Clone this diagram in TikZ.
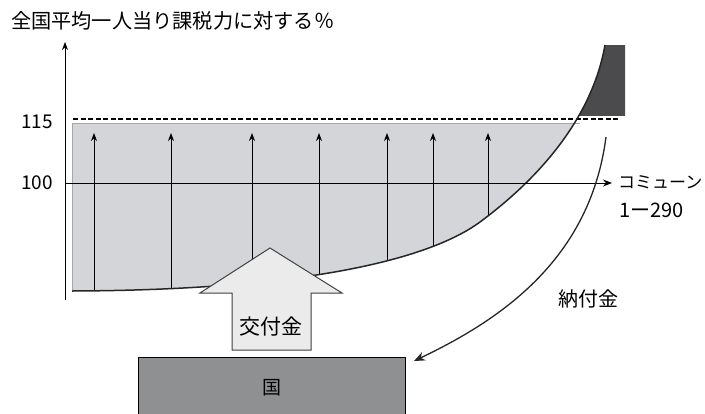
\documentclass[tikz,border=0pt]{standalone}
\usepackage{fontspec}
\setmainfont{Noto Sans CJK JP}
\usetikzlibrary{arrows.meta}
\definecolor{lightfill}{HTML}{D3D5D9}
\definecolor{darkfill}{HTML}{4B4B4D}
\definecolor{boxfill}{HTML}{8F9092}
\definecolor{arrowfill}{HTML}{EBEBEB}
\tikzset{
  axisline/.style={line width=1pt, -{Stealth[length=8pt,width=6pt]}},
  uparrow/.style={line width=1pt, -{Stealth[length=8pt,width=6pt]}},
  lbl/.style={inner sep=0pt, font=\fontsize{19}{19}\selectfont},
  curveline/.style={line width=1.5pt, draw=black!85}
}
\begin{document}
\begin{tikzpicture}[x=1pt,y=-1pt]
\useasboundingbox (0,0) rectangle (705,413);
\def\curvepath{(72,291) .. controls (330,290) and (438,253) .. (480,222) .. controls (522,191) and (590,130) .. (605,45)}
% light region
\begin{scope}
  \clip (72,123) rectangle (640,300);
  \fill[lightfill] \curvepath -- (72,45) -- cycle;
\end{scope}
\draw[gray!70, line width=0.6pt] (72,291) -- (72,123) -- (580,123);
% dark region
\begin{scope}
  \clip (450,45) rectangle (625,115);
  \fill[darkfill] \curvepath -- (625,45) -- (625,300) -- cycle;
\end{scope}
% dashed 115 line
\draw[line width=1.2pt, dash pattern=on 5pt off 2.5pt] (73,119) -- (618,119);
% vertical arrows, starting on the curve
\begin{scope}
  \clip \curvepath -- (72,45) -- cycle;
  \foreach \x in {94,171,252,319,387,433,488}
    \draw[uparrow] (\x,300) -- (\x,133);
\end{scope}
% curve
\draw[curveline] \curvepath;
% axes
\coordinate (yb) at (65,300);
\coordinate (yt) at (65,42);
\coordinate (xb) at (65,183);
\coordinate (xt) at (612,183);
\draw[axisline] (yb) -- (yt);
\draw[line width=1pt, -{Stealth[length=9pt,width=7pt]}] (xb) -- (xt);
% labels
\node[anchor=west, inner sep=0pt, font=\fontsize{20.2}{20}\selectfont] (title) at (11,21) {全国平均一人当り課税力に対する％};
\node[lbl, anchor=east] (l115) at (53,122) {115};
\node[lbl, anchor=east] (l100) at (53,183) {100};
\node[anchor=west, inner sep=0pt, font=\fontsize{17}{17}\selectfont] (kom) at (618,182) {コミューン};
\node[anchor=west, inner sep=0pt, font=\fontsize{20}{20}\selectfont] (rng) at (619,210) {1ー290};
% big arrow
\draw[fill=arrowfill, draw=black!75, line width=1pt]
  (232,350) -- (232,293) -- (200,293) -- (270,248) -- (342,293) -- (311,293) -- (311,350) -- cycle;
\node[inner sep=0pt, font=\fontsize{21}{21}\selectfont] (kofu) at (271,327) {交付金};
% state box
\node[draw=black, line width=1pt, fill=boxfill, minimum width=267pt, minimum height=70pt, anchor=north west, inner sep=0pt] (kuni) at (138,357) {};
\node[inner sep=0pt, font=\fontsize{19}{19}\selectfont] (kunilbl) at (272,388) {国};
% payment arrow
\coordinate (payst) at (606,137);
\coordinate (payend) at (414,361);
\draw[line width=1.3pt, draw=black!85, -{Stealth[length=11pt,width=9pt]}]
  (payst) .. controls (590,260) and (500,320) .. (payend);
\node[inner sep=0pt, font=\fontsize{20}{20}\selectfont] (nofu) at (588,299) {納付金};
\end{tikzpicture}
\end{document}
